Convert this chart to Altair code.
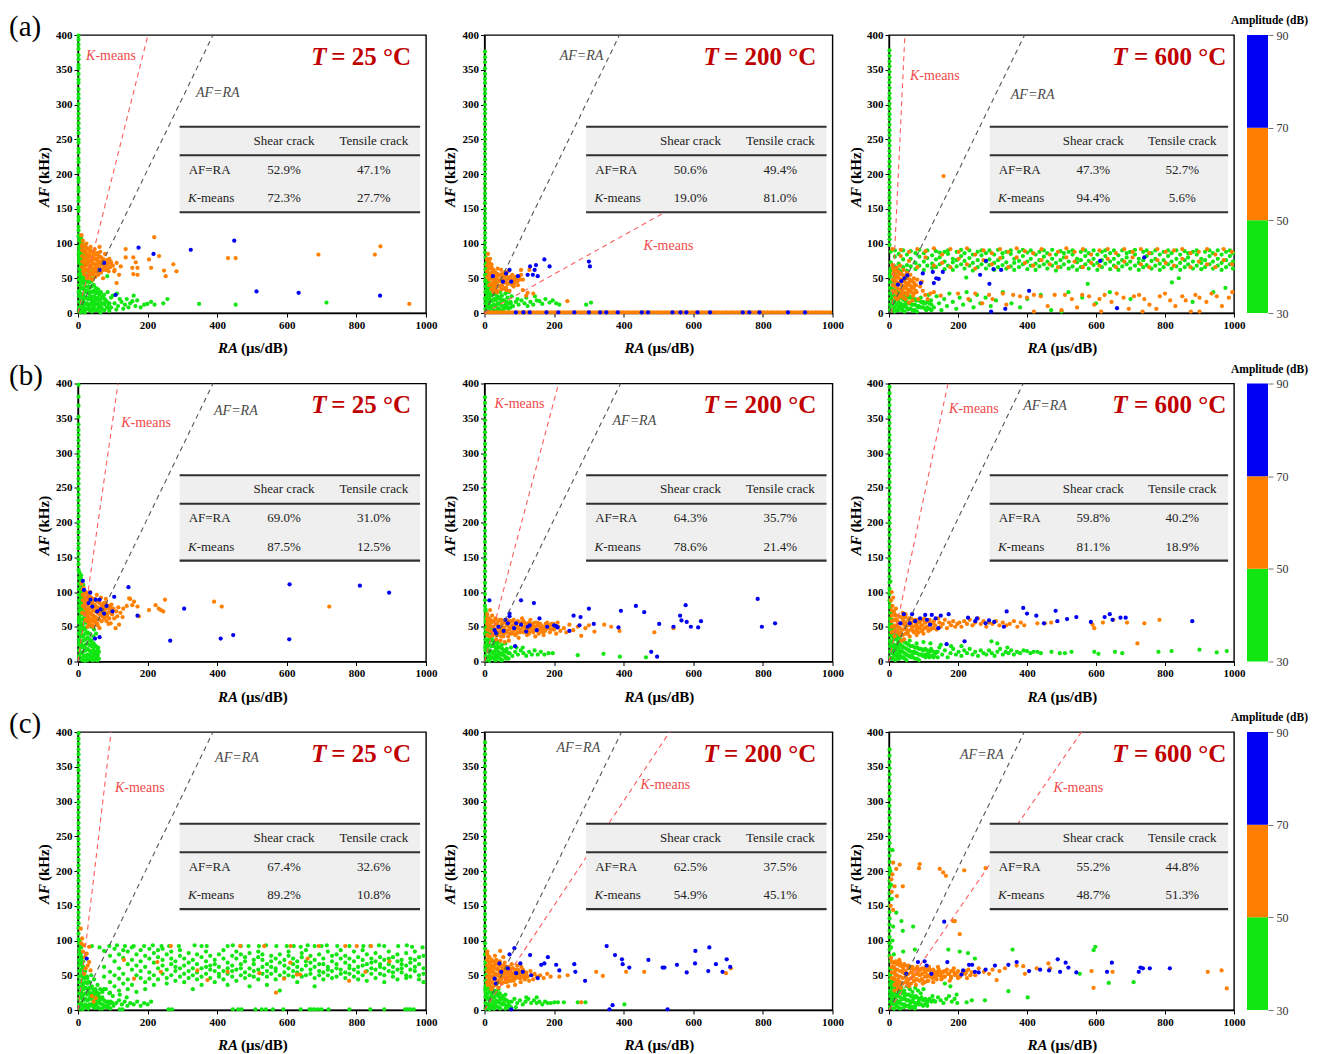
import altair as alt
import pandas as pd

FONT = "Liberation Serif"
GREEN = "#12e612"
ORANGE = "#ff8000"
BLUE = "#0000f5"
TITLE_RED = "#c00000"
KM_RED = "#f04a4a"
AFRA_GREY = "#4a4a4a"
INK = "#222222"

# amplitude band of each hit colour (dB)
AMP_GREEN, AMP_ORANGE, AMP_BLUE = 40, 60, 80
AXIS_RA = 1.5          # hits piled up on the AF axis (RA close to 0)
BASE_AF = 1            # hits lying on the RA axis (AF close to 0)

X_TICKS = [0, 200, 400, 600, 800, 1000]
Y_TICKS = [0, 50, 100, 150, 200, 250, 300, 350, 400]
PANEL_W = [348, 348, 345]
PANEL_H = 278

# colour bar bands
CB_LO = [30, 50, 70]
CB_HI = [50, 70, 90]
CB_AMP = [AMP_GREEN, AMP_ORANGE, AMP_BLUE]
CB_TICKS = [30, 50, 70, 90]

# summary table frame (data units)
TABLE_X = (292, 983)
TABLE_Y = (145, 268)
TABLE_MID = 227
HEADERS = ["Shear crack", "Tensile crack"]

# ---------------- row (a) ----------------
A1_AXIS = [399, 393, 386, 380, 371, 365, 357, 352, 344, 336, 331, 322, 315, 309, 301, 294, 287, 280, 273, 266,
           259, 250, 245, 236, 231, 222, 217, 208, 203, 194, 189, 180, 175, 166, 161, 152, 147, 138, 133, 124, 119, 110]
A1_GREEN = [(5, 105), (8, 98), (4, 92), (10, 88), (6, 82), (12, 78), (3, 75), (9, 70), (15, 66), (5, 62), (11, 58),
            (18, 55), (7, 50), (14, 46), (22, 44), (4, 40), (10, 36), (17, 34), (25, 32), (30, 38), (6, 28), (13, 25),
            (20, 22), (28, 20), (35, 24), (40, 18), (8, 16), (15, 14), (24, 12), (32, 10), (42, 12), (50, 15), (55, 20),
            (60, 10), (4, 8), (10, 6), (18, 4), (26, 6), (36, 4), (46, 6), (56, 4), (66, 8), (72, 14), (80, 18), (88, 12),
            (95, 8), (105, 14), (115, 10), (125, 16), (135, 12), (145, 8), (12, 100), (20, 95), (16, 88), (25, 80),
            (30, 70), (35, 60), (40, 50), (45, 40), (50, 30), (60, 28), (70, 22), (2, 2), (8, 1), (20, 1), (40, 2),
            (65, 1), (90, 3), (110, 5), (130, 6), (160, 25), (156, 17), (190, 12), (199, 13), (245, 14), (257, 20),
            (348, 13), (453, 12), (714, 15), (84, 53), (170, 18), (120, 20), (100, 25), (140, 20), (180, 8), (3, 55),
            (2, 30), (2, 85), (20, 60), (26, 45), (34, 30), (48, 22), (58, 34), (66, 30), (75, 26), (85, 30), (95, 22),
            (112, 28), (150, 14), (165, 10), (210, 16), (220, 12)]
A1_GREEN_FILL = [(3, [112, 104, 96, 88, 80, 72, 64, 56, 48, 40, 32, 24, 16, 8]),
                 (9, [108, 100, 92, 84, 76, 68, 60, 52, 44, 36, 28, 20, 12, 4]),
                 (15, [98, 90, 82, 74, 66, 58, 50, 42, 34, 26, 18, 10, 2]),
                 (21, [86, 78, 70, 62, 54, 46, 38, 30, 22, 14, 6]), (27, [70, 62, 54, 46, 38, 30, 22, 14, 6]),
                 (33, [52, 44, 36, 28, 20, 12, 4]), (39, [46, 38, 30, 22, 14, 6]), (45, [40, 32, 24, 16, 8]),
                 (51, [36, 28, 20, 12, 4]), (57, [30, 22, 14, 6]), (63, [26, 18, 10, 2]), (69, [22, 14, 6]),
                 (76, [20, 12, 4]), (83, [16, 8]), (90, [14, 6])]
A1_ORANGE = [(20, 90), (25, 85), (30, 80), (35, 88), (40, 75), (45, 82), (50, 70), (55, 78), (60, 65), (30, 62),
             (38, 68), (44, 58), (52, 60), (58, 72), (65, 80), (70, 75), (75, 68), (80, 62), (85, 70), (90, 78), (48, 92),
             (56, 86), (62, 95), (28, 72), (34, 55), (42, 48), (50, 52), (66, 58), (72, 50), (24, 100), (18, 78),
             (22, 68), (36, 95), (78, 85), (88, 60), (95, 72), (100, 68), (105, 62), (64, 88), (46, 64), (54, 66),
             (32, 76), (40, 82), (68, 70), (58, 55), (15, 60), (26, 50), (82, 76), (92, 66), (219, 109), (137, 92),
             (137, 80), (159, 80), (166, 73), (156, 65), (171, 65), (159, 56), (171, 55), (204, 77), (233, 82),
             (210, 65), (247, 61), (252, 53), (274, 70), (283, 60), (431, 79), (453, 79), (691, 84), (853, 84),
             (869, 96), (952, 13), (111, 43), (104, 60), (118, 55), (123, 67), (111, 72), (94, 74), (10, 112),
             (14, 104), (12, 95)]
A1_ORANGE_FILL = [(12, [98, 90, 82, 74, 66]), (18, [96, 88, 80, 72, 64, 56]), (24, [94, 86, 78, 70, 62, 54]),
                  (30, [92, 84, 76, 68, 60, 52]), (36, [90, 82, 74, 66, 58, 50]), (42, [88, 80, 72, 64, 56]),
                  (48, [86, 78, 70, 62, 54]), (54, [84, 76, 68, 60]), (60, [82, 74, 66, 58]), (66, [80, 72, 64]),
                  (72, [78, 70, 62]), (78, [74, 66]), (84, [72, 64])]
A1_BLUE = [(174, 94), (217, 85), (324, 91), (449, 104), (108, 26), (513, 31), (634, 29), (868, 25), (75, 72), (62, 62)]

A2_AXIS = [376, 368, 361, 352, 344, 337, 331, 322, 316, 308, 300, 293, 287, 279, 272, 264, 257, 250, 243, 236, 229,
           221, 214, 207, 200, 193, 186, 179, 172, 165, 158, 150, 143, 136, 129, 122, 115, 108, 101, 94, 87]
A2_GREEN = [(3, 80), (6, 72), (4, 64), (9, 58), (5, 50), (12, 46), (8, 40), (15, 36), (4, 32), (10, 28), (18, 26),
            (25, 30), (6, 22), (14, 20), (22, 18), (30, 20), (38, 24), (8, 12), (16, 10), (26, 12), (34, 10), (44, 14),
            (52, 18), (60, 12), (4, 4), (12, 3), (22, 5), (32, 3), (42, 6), (55, 5), (66, 8), (75, 14), (82, 10),
            (90, 16), (98, 12), (106, 18), (115, 14), (124, 10), (132, 16), (140, 12), (150, 18), (158, 17), (166, 13),
            (175, 20), (187, 15), (196, 18), (206, 14), (215, 12), (292, 12), (306, 15), (20, 40), (28, 35), (35, 45),
            (45, 30), (50, 25), (66, 22), (78, 24), (95, 20), (120, 22), (145, 24), (2, 55), (2, 45), (2, 20),
            (60, 28), (70, 30)]
A2_GREEN_FILL = [(3, [70, 62, 54, 46, 38, 30, 22, 14, 6]), (9, [50, 42, 34, 26, 18, 10, 2]), (15, [40, 32, 24, 16, 8]),
                 (21, [34, 26, 18, 10, 2]), (27, [28, 20, 12, 4]), (33, [26, 18, 10, 2]), (39, [22, 14, 6]),
                 (45, [20, 12, 4]), (51, [18, 10, 2]), (57, [18, 10]), (63, [16, 8]), (69, [14, 6]), (75, [16, 8])]
A2_ORANGE = [(8, 78), (12, 72), (15, 65), (20, 70), (25, 62), (18, 56), (30, 58), (35, 52), (28, 48), (40, 46),
             (45, 55), (50, 50), (55, 44), (22, 42), (32, 40), (42, 38), (60, 48), (65, 42), (70, 50), (75, 45),
             (80, 55), (85, 48), (90, 52), (95, 46), (100, 50), (105, 55), (110, 48), (38, 64), (48, 62), (58, 58),
             (68, 60), (14, 50), (26, 34), (36, 30), (50, 34), (62, 36), (72, 32), (84, 38), (96, 40), (105, 62),
             (100, 48), (86, 43), (62, 33), (124, 29), (110, 33), (129, 62), (238, 17), (120, 25), (140, 28),
             (10, 85), (16, 78)]
A2_ORANGE_FILL = [(8, [76, 68, 60, 52]), (14, [72, 64, 56, 48, 40]), (20, [66, 58, 50, 42, 34]),
                  (26, [62, 54, 46, 38, 30]), (32, [58, 50, 42, 34]), (38, [56, 48, 40, 32]), (44, [54, 46, 38]),
                  (50, [56, 48, 40]), (56, [52, 44, 36]), (62, [54, 46]), (68, [50, 42]), (74, [52, 44]),
                  (80, [48, 40]), (86, [50]), (92, [46])]
A2_BASE_ORANGE = [4, 13, 21, 30, 38, 47, 55, 64, 73, 81, 90, 98, 107, 115, 124, 133, 141, 150, 158, 167, 176, 184,
                  193, 201, 210, 219, 227, 236, 244, 253, 262, 270, 279, 287, 296, 305, 313, 322, 330, 339, 348, 356,
                  365, 373, 382, 391, 399, 408, 416, 425, 434, 442, 451, 459, 468, 477, 485, 494, 502, 511, 520, 528,
                  537, 545, 554, 563, 571, 580, 588, 597, 606, 614, 623, 631, 640, 649, 657, 666, 674, 683, 692, 700,
                  709, 717, 726, 735, 743, 752, 760, 769, 778, 786, 795, 803, 812, 821, 829, 838, 846, 855, 864, 872,
                  881, 889, 898, 907, 915, 924, 932, 941, 950, 958, 967, 975, 984, 993]
A2_BLUE = [(172, 77), (131, 67), (144, 62), (148, 69), (139, 55), (153, 53), (187, 67), (124, 55), (72, 62), (62, 57),
           (96, 53), (77, 45), (53, 45), (300, 74), (303, 67), (24, 53)]
A2_BASE_BLUE = [90, 112, 130, 178, 212, 258, 300, 332, 350, 383, 452, 470, 540, 563, 580, 612, 648, 742, 761, 790,
                872, 921]

A3_AXIS = [378, 370, 362, 355, 347, 339, 332, 324, 316, 309, 301, 294, 286, 279, 271, 263, 256, 248, 241, 233, 226,
           218, 211, 203, 196, 188, 181, 173, 166, 158, 151, 143, 136, 128, 121, 113, 106, 98]
A3_BAND_GREEN = [(5, [88, 73, 64]), (17, [81, 67, 90]), (28, [85, 71, 62]), (41, [77, 90, 66]), (52, [84, 69, 61]),
                 (63, [89, 78, 67]), (77, [72, 86, 63]), (88, [81, 68, 91]), (101, [86, 74, 62]), (111, [79, 90, 68]),
                 (125, [83, 71, 65]), (136, [89, 77, 66]), (147, [80, 70, 87]), (161, [74, 88, 63]), (171, [85, 68, 90]),
                 (185, [78, 73, 62]), (196, [88, 76, 67]), (209, [82, 70, 91]), (219, [75, 86, 64]), (233, [90, 79, 68]),
                 (243, [84, 72, 61]), (257, [76, 88, 66]), (268, [83, 70, 90]), (281, [86, 74, 64]), (291, [77, 90, 69]),
                 (305, [84, 72, 62]), (316, [91, 76, 66]), (329, [80, 69, 86]), (340, [73, 88, 64]), (353, [85, 67, 90]),
                 (363, [78, 72, 62]), (377, [88, 75, 66]), (388, [82, 70, 91]), (401, [74, 87, 63]), (411, [90, 78, 68]),
                 (425, [84, 71, 62]), (436, [76, 88, 67]), (449, [81, 70, 90]), (459, [86, 74, 64]), (473, [78, 91, 68]),
                 (484, [84, 72, 61]), (497, [89, 76, 66]), (507, [80, 70, 86]), (521, [74, 88, 64]), (532, [84, 67, 90]),
                 (545, [78, 73, 62]), (556, [88, 76, 66]), (569, [82, 70, 90]), (579, [75, 86, 64]), (593, [90, 78, 69]),
                 (604, [84, 72, 62]), (617, [76, 88, 66]), (627, [82, 71, 90]), (641, [86, 74, 63]), (652, [78, 90, 68]),
                 (665, [83, 72, 62]), (676, [90, 76, 67]), (689, [80, 70, 86]), (699, [74, 88, 64]), (713, [84, 68, 91]),
                 (724, [78, 72, 62]), (737, [88, 76, 66]), (747, [82, 69, 90]), (761, [75, 86, 64]), (772, [90, 78, 68]),
                 (785, [84, 71, 62]), (796, [76, 88, 66]), (809, [82, 70, 90]), (819, [86, 74, 64]), (833, [78, 90, 67]),
                 (844, [84, 72, 62]), (857, [89, 76, 66]), (867, [80, 70, 86]), (881, [74, 88, 64]), (892, [84, 68, 90]),
                 (905, [78, 72, 63]), (916, [88, 76, 66]), (929, [82, 70, 90]), (939, [74, 86, 64]), (953, [90, 78, 68]),
                 (964, [84, 72, 62]), (977, [76, 88, 66]), (988, [82, 70, 90]), (997, [86, 74, 64])]
A3_GREEN = [(3, 55), (6, 45), (4, 35), (8, 25), (10, 15), (5, 6), (14, 50), (18, 40), (22, 30), (26, 20), (30, 10),
            (16, 2), (28, 4), (40, 8), (45, 20), (50, 14), (55, 5), (60, 24), (65, 12), (70, 3), (78, 18), (85, 8),
            (92, 22), (100, 14), (108, 4), (115, 26), (122, 18), (130, 8), (138, 24), (145, 14), (152, 4), (160, 20),
            (168, 10), (175, 28), (185, 16), (195, 6), (205, 22), (215, 12), (225, 30), (235, 18), (245, 8), (255, 26),
            (265, 14), (280, 22), (295, 10), (310, 18), (330, 30), (355, 14), (380, 8), (401, 20), (440, 26), (470, 4),
            (500, 2), (520, 30), (560, 22), (576, 42), (600, 14), (640, 30), (700, 20), (820, 44), (840, 50), (880, 16),
            (940, 30), (975, 36), (36, 60), (20, 58), (12, 62), (224, 51)]
A3_GREEN_FILL = [(3, [60, 52, 44, 36, 28, 20, 12, 4]), (9, [44, 36, 28, 20, 12, 4]), (15, [40, 32, 24, 16, 8]),
                 (21, [36, 28, 20, 12, 4]), (27, [32, 24, 16, 8]), (33, [30, 22, 14, 6]), (39, [28, 20, 12, 4]),
                 (45, [26, 18, 10, 2]), (51, [24, 16, 8]), (57, [22, 14, 6]), (63, [22, 14, 6]), (69, [20, 12, 4]),
                 (75, [20, 12, 4]), (81, [18, 10, 2]), (87, [18, 10]), (93, [16, 8]), (99, [16, 8]), (105, [14, 6]),
                 (111, [16, 8]), (117, [14, 6]), (123, [12, 4])]
A3_BAND_ORANGE = [(10, [92, 69]), (34, [82, 91]), (58, [75, 88]), (82, [92, 66]), (106, [80, 89]), (130, [68, 93]),
                  (154, [84, 72]), (178, [92, 66]), (202, [78, 88]), (226, [93, 70]), (250, [84, 64]), (274, [90, 76]),
                  (298, [70, 86]), (322, [92, 79]), (346, [66, 88]), (370, [80, 93]), (394, [72, 89]), (418, [86, 68]),
                  (442, [92, 76]), (466, [70, 84]), (490, [88, 66]), (514, [93, 80]), (538, [74, 88]), (562, [66, 92]),
                  (586, [84, 72]), (610, [90, 68]), (634, [78, 92]), (658, [66, 86]), (682, [92, 74]), (706, [80, 88]),
                  (730, [70, 92]), (754, [86, 66]), (778, [92, 76]), (802, [72, 88]), (826, [90, 68]), (850, [78, 92]),
                  (874, [66, 86]), (898, [88, 74]), (922, [70, 92]), (946, [84, 66]), (970, [92, 76]), (994, [70, 88])]
A3_ORANGE = [(15, 60), (20, 50), (25, 40), (30, 56), (35, 45), (40, 35), (45, 50), (50, 40), (55, 30), (60, 45),
             (65, 35), (70, 25), (75, 40), (80, 30), (85, 20), (18, 30), (28, 22), (38, 28), (48, 20), (58, 15),
             (68, 18), (22, 65), (32, 68), (42, 62), (52, 58), (62, 55), (72, 50), (82, 48), (90, 38), (98, 32),
             (105, 26), (112, 20), (120, 28), (95, 45), (130, 30), (150, 25), (158, 197), (200, 28), (230, 20),
             (250, 28), (270, 14), (290, 26), (300, 20), (330, 28), (340, 12), (360, 26), (380, 24), (400, 22),
             (420, 26), (440, 24), (460, 10), (480, 26), (500, 4), (510, 26), (530, 20), (545, 8), (560, 26), (580, 24),
             (595, 12), (610, 20), (625, 26), (645, 16), (660, 28), (680, 22), (695, 6), (710, 24), (725, 26),
             (740, 20), (755, 12), (775, 6), (785, 24), (800, 28), (815, 18), (830, 10), (850, 24), (860, 18),
             (875, 2), (888, 26), (900, 22), (920, 16), (935, 28), (950, 24), (965, 10), (985, 22), (995, 30),
             (420, 2), (615, 2), (735, 2), (900, 2)]
A3_ORANGE_FILL = [(12, [64, 56, 48, 40, 32]), (18, [62, 54, 46, 38, 30, 22]), (24, [60, 52, 44, 36, 28, 20]),
                  (30, [58, 50, 42, 34, 26]), (36, [56, 48, 40, 32, 24]), (42, [54, 46, 38, 30, 22]),
                  (48, [52, 44, 36, 28]), (54, [50, 42, 34, 26]), (60, [48, 40, 32]), (66, [46, 38, 30]),
                  (72, [44, 36, 28]), (78, [40, 32])]
A3_BLUE = [(45, 50), (26, 41), (53, 54), (92, 43), (127, 59), (130, 43), (137, 50), (144, 49), (156, 59), (264, 55),
           (291, 42), (281, 75), (303, 63), (325, 62), (406, 32), (337, 6), (296, 2), (612, 75), (740, 80), (661, 7),
           (98, 57), (36, 46)]

# ---------------- row (b) ----------------
B1_AXIS = [398, 381, 368, 352, 341, 333, 326, 318, 310, 302, 295, 287, 279, 271, 263, 256, 248, 240, 232, 224, 217,
           209, 201, 194, 186, 178, 170, 163, 155, 147, 140, 132]
B1_GREEN = [(4, 128), (8, 120), (5, 112), (10, 104), (3, 96), (12, 92), (6, 86), (14, 80), (4, 74), (9, 68), (16, 62),
            (5, 56), (12, 50), (20, 46), (6, 42), (14, 36), (22, 32), (28, 40), (4, 28), (10, 24), (18, 20), (26, 18),
            (34, 24), (40, 14), (8, 12), (16, 8), (24, 6), (32, 10), (44, 8), (50, 12), (56, 6), (60, 14), (4, 4),
            (12, 2), (20, 1), (30, 3), (40, 2), (48, 4), (54, 2), (60, 4), (36, 30), (44, 36), (30, 54), (38, 50),
            (46, 46), (52, 40), (20, 58), (26, 66), (34, 60), (42, 26), (50, 22), (58, 20), (15, 110), (20, 100),
            (2, 60), (2, 40), (18, 74), (10, 115)]
B1_GREEN_FILL = [(3, [128, 120, 112, 104, 96, 88, 80, 72, 64, 56, 48, 40, 32, 24, 16, 8]),
                 (9, [124, 116, 108, 100, 92, 84, 76, 68, 60, 52, 44, 36, 28, 20, 12, 4]),
                 (15, [110, 102, 94, 86, 78, 70, 62, 54, 46, 38, 30, 22, 14, 6]),
                 (21, [80, 72, 64, 56, 48, 40, 32, 24, 16, 8]), (27, [50, 42, 34, 26, 18, 10, 2]),
                 (33, [40, 32, 24, 16, 8]), (39, [30, 22, 14, 6]), (45, [26, 18, 10, 2]), (51, [22, 14, 6]),
                 (57, [18, 10, 2])]
B1_ORANGE = [(10, 112), (16, 106), (22, 100), (28, 95), (34, 90), (40, 86), (46, 82), (52, 78), (58, 74), (64, 70),
             (70, 66), (76, 62), (82, 58), (88, 54), (20, 88), (26, 82), (32, 76), (38, 70), (44, 64), (50, 58),
             (56, 52), (62, 48), (68, 78), (74, 84), (80, 90), (86, 80), (92, 74), (98, 68), (104, 62), (110, 72),
             (116, 78), (122, 70), (128, 64), (24, 70), (30, 64), (36, 58), (42, 52), (48, 90), (54, 96), (60, 86),
             (66, 92), (72, 72), (78, 76), (84, 68), (90, 62), (96, 82), (102, 76), (14, 96), (18, 80), (12, 70),
             (22, 60), (28, 50), (35, 100), (147, 91), (156, 81), (171, 79), (161, 86), (175, 65), (204, 74),
             (223, 81), (232, 76), (238, 74), (245, 72), (250, 89), (391, 86), (413, 79), (722, 79), (118, 53),
             (108, 48), (94, 55), (113, 65), (84, 65), (150, 90), (140, 80), (130, 76)]
B1_ORANGE_FILL = [(14, [104, 96, 88, 80]), (20, [100, 92, 84, 76, 68]), (26, [98, 90, 82, 74, 66, 58]),
                  (32, [94, 86, 78, 70, 62, 54]), (38, [92, 84, 76, 68, 60, 52]), (44, [90, 82, 74, 66, 58, 50]),
                  (50, [88, 80, 72, 64, 56]), (56, [86, 78, 70, 62, 54]), (62, [84, 76, 68, 60]),
                  (68, [82, 74, 66, 58]), (74, [80, 72, 64]), (80, [84, 76, 68]), (86, [78, 70]), (92, [80, 72]),
                  (98, [76, 68])]
B1_BLUE = [(14, 116), (35, 99), (36, 89), (51, 89), (62, 89), (82, 80), (104, 93), (145, 107), (171, 66), (305, 76),
           (265, 30), (410, 33), (446, 38), (607, 32), (608, 111), (810, 109), (894, 99), (49, 33), (62, 35), (17, 103),
           (41, 79), (65, 75), (75, 69), (99, 72), (30, 84), (55, 72)]

B2_AXIS = [380, 372, 363, 355, 347, 338, 330, 322, 313, 305, 297, 288, 280, 272, 263, 255, 247, 238, 230, 222, 213,
           205, 197, 188, 180, 172, 163, 155, 147, 138, 130, 122, 113, 105, 97, 88, 80]
B2_GREEN = [(3, 75), (6, 68), (4, 60), (8, 52), (5, 45), (10, 40), (14, 34), (4, 30), (12, 26), (20, 22), (28, 26),
            (6, 18), (16, 14), (24, 12), (32, 16), (40, 20), (8, 6), (18, 4), (28, 6), (38, 8), (48, 10), (56, 14),
            (64, 18), (72, 12), (80, 8), (88, 14), (96, 10), (104, 16), (112, 12), (120, 8), (128, 14), (136, 10),
            (144, 16), (153, 10), (162, 14), (172, 10), (184, 12), (196, 12), (268, 9), (342, 11), (389, 7), (464, 6),
            (4, 2), (14, 1), (30, 2), (46, 2), (62, 4), (20, 35), (30, 30), (40, 28), (50, 24), (60, 26), (36, 40),
            (26, 46), (16, 50), (2, 20), (2, 40), (76, 20), (92, 20), (110, 20)]
B2_GREEN_FILL = [(3, [72, 64, 56, 48, 40, 32, 24, 16, 8]), (9, [62, 54, 46, 38, 30, 22, 14, 6]),
                 (15, [48, 40, 32, 24, 16, 8]), (21, [38, 30, 22, 14, 6]), (27, [30, 22, 14, 6]), (33, [26, 18, 10, 2]),
                 (39, [22, 14, 6]), (45, [20, 12, 4]), (51, [18, 10, 2]), (57, [16, 8]), (63, [14, 6]), (69, [12, 4])]
B2_ORANGE = [(8, 68), (14, 62), (20, 56), (26, 50), (32, 44), (38, 38), (44, 60), (50, 54), (56, 48), (62, 42),
             (68, 36), (74, 58), (80, 52), (86, 46), (92, 40), (98, 34), (104, 56), (110, 50), (116, 44), (122, 38),
             (128, 54), (134, 48), (140, 42), (146, 36), (152, 56), (158, 50), (164, 44), (170, 38), (176, 54),
             (182, 48), (188, 42), (194, 52), (200, 46), (206, 40), (212, 50), (218, 44), (12, 50), (18, 44), (24, 38),
             (30, 60), (36, 54), (42, 48), (48, 42), (54, 36), (60, 58), (66, 52), (72, 46), (78, 40), (84, 60),
             (90, 54), (96, 48), (102, 42), (108, 62), (114, 56), (120, 48), (126, 44), (132, 60), (138, 54),
             (144, 50), (150, 46), (156, 40), (162, 52), (168, 48), (174, 44), (180, 56), (186, 52), (192, 46),
             (198, 54), (204, 50), (210, 56), (16, 74), (10, 58), (22, 66), (34, 32), (46, 30), (58, 28), (70, 30),
             (244, 53), (268, 50), (278, 37), (316, 43), (344, 53), (364, 50), (388, 44), (488, 42), (543, 48),
             (228, 48), (235, 42), (255, 45), (290, 48), (300, 52)]
B2_ORANGE_FILL = [(8, [62, 54, 46, 38]), (16, [60, 52, 44, 36]), (24, [58, 50, 42]), (32, [62, 54, 46, 38]),
                  (40, [58, 50, 42]), (48, [60, 52, 44, 36]), (56, [56, 48, 40]), (64, [60, 52, 44]),
                  (72, [56, 48, 40]), (80, [58, 50, 42]), (88, [54, 46, 38]), (96, [58, 50, 42]), (104, [54, 46]),
                  (112, [58, 50, 42]), (120, [54, 46]), (128, [56, 48, 40]), (136, [52, 44]), (144, [56, 48]),
                  (152, [52, 44]), (160, [54, 46]), (168, [50, 42]), (176, [54, 46]), (184, [50]), (192, [54, 46]),
                  (200, [50])]
B2_BLUE = [(14, 88), (105, 88), (142, 84), (300, 76), (392, 73), (435, 80), (459, 71), (562, 66), (578, 81), (566, 59),
           (581, 57), (593, 50), (614, 49), (622, 58), (543, 50), (502, 54), (314, 54), (276, 64), (256, 66), (273, 52),
           (244, 44), (385, 49), (785, 90), (797, 50), (835, 55), (479, 14), (496, 7), (88, 22), (158, 62), (206, 51),
           (29, 45), (33, 41), (72, 65), (72, 69), (67, 55), (91, 55), (120, 43), (124, 50), (105, 53), (40, 50),
           (55, 44), (60, 60), (85, 48), (130, 52), (150, 45), (180, 50), (200, 52), (210, 49)]

B3_AXIS = [395, 386, 377, 369, 360, 352, 343, 335, 326, 318, 309, 301, 292, 284, 275, 267, 258, 250, 241, 233, 224,
           216, 207, 199, 190, 182, 173, 165, 156, 148, 139, 131, 122, 114, 105, 97, 88]
B3_GREEN = [(3, 80), (5, 70), (4, 60), (8, 52), (6, 44), (10, 38), (14, 32), (4, 28), (12, 24), (20, 20), (28, 26),
            (6, 16), (16, 12), (24, 8), (32, 14), (40, 20), (8, 4), (18, 2), (30, 4), (42, 6), (50, 10), (58, 16),
            (66, 8), (74, 14), (82, 20), (90, 10), (98, 16), (106, 6), (114, 12), (122, 18), (130, 8), (138, 14),
            (146, 20), (154, 10), (162, 16), (170, 6), (178, 12), (186, 18), (194, 10), (202, 14), (210, 8), (218, 16),
            (226, 12), (234, 18), (242, 10), (250, 14), (258, 8), (266, 16), (274, 12), (282, 10), (290, 16),
            (298, 12), (306, 8), (314, 14), (322, 18), (330, 10), (338, 14), (346, 12), (354, 16), (362, 10),
            (371, 14), (380, 12), (390, 16), (400, 15), (410, 12), (419, 14), (430, 14), (440, 12), (471, 14),
            (495, 12), (510, 12), (529, 14), (595, 14), (607, 11), (655, 14), (676, 12), (781, 14), (819, 15),
            (900, 17), (950, 13), (979, 15), (297, 29), (314, 26), (343, 20), (120, 26), (150, 24), (180, 22),
            (210, 22), (60, 30), (80, 26), (100, 28), (20, 40), (30, 36), (36, 46), (2, 100), (4, 115), (2, 50)]
B3_GREEN_FILL = [(3, [86, 78, 70, 62, 54, 46, 38, 30, 22, 14, 6]), (9, [60, 52, 44, 36, 28, 20, 12, 4]),
                 (15, [48, 40, 32, 24, 16, 8]), (21, [40, 32, 24, 16, 8]), (27, [36, 28, 20, 12, 4]),
                 (33, [32, 24, 16, 8]), (39, [30, 22, 14, 6]), (45, [28, 20, 12, 4]), (51, [26, 18, 10, 2]),
                 (57, [24, 16, 8]), (63, [22, 14, 6]), (69, [22, 14, 6]), (75, [20, 12, 4]), (81, [20, 12, 4]),
                 (87, [18, 10, 2]), (93, [18, 10]), (99, [16, 8]), (105, [18, 10]), (111, [16, 8]), (117, [14, 6]),
                 (123, [16, 8]), (129, [14, 6]), (135, [12]), (141, [14, 6])]
B3_ORANGE = [(6, 88), (10, 80), (14, 72), (18, 66), (22, 60), (26, 54), (30, 48), (34, 42), (38, 64), (42, 58),
             (46, 52), (50, 46), (54, 40), (58, 62), (62, 56), (66, 50), (70, 44), (74, 60), (78, 54), (82, 48),
             (86, 42), (90, 58), (94, 52), (98, 46), (102, 62), (106, 56), (110, 50), (114, 44), (118, 60), (122, 54),
             (126, 48), (130, 58), (134, 52), (138, 46), (142, 62), (146, 56), (150, 50), (156, 54), (162, 60),
             (168, 48), (174, 56), (180, 52), (186, 58), (192, 50), (198, 54), (204, 56), (210, 50), (218, 58),
             (226, 54), (234, 60), (242, 52), (250, 56), (258, 62), (266, 54), (274, 58), (282, 50), (290, 56),
             (300, 54), (310, 58), (320, 52), (330, 56), (340, 52), (350, 54), (362, 58), (372, 50), (382, 56),
             (392, 52), (16, 50), (24, 44), (32, 38), (40, 70), (48, 68), (20, 76), (12, 92), (8, 100), (430, 55),
             (452, 55), (470, 56), (590, 53), (595, 48), (620, 56), (650, 60), (690, 56), (740, 55), (784, 60),
             (720, 26), (36, 30), (44, 32), (60, 36), (80, 38), (100, 40)]
B3_ORANGE_FILL = [(8, [74, 66, 58, 50, 42]), (16, [68, 60, 52, 44, 36]), (24, [66, 58, 50, 42]),
                  (32, [64, 56, 48, 40]), (40, [62, 54, 46, 38]), (48, [64, 56, 48, 40]), (56, [60, 52, 44]),
                  (64, [62, 54, 46]), (72, [58, 50, 42]), (80, [60, 52, 44]), (88, [56, 48]), (96, [60, 52, 44]),
                  (104, [56, 48]), (112, [58, 50]), (120, [54, 46]), (128, [56, 48])]
B3_BLUE = [(43, 68), (67, 68), (105, 67), (124, 67), (173, 68), (229, 63), (255, 62), (290, 59), (305, 57), (341, 72),
           (389, 77), (400, 69), (427, 66), (449, 55), (483, 73), (488, 58), (516, 61), (543, 64), (585, 57), (625, 64),
           (640, 68), (648, 60), (671, 63), (686, 63), (879, 58), (33, 55), (76, 58), (167, 25), (219, 29), (119, 53),
           (143, 48), (333, 50), (90, 62), (110, 60), (135, 62), (150, 66), (60, 55), (280, 55), (250, 58)]

# ---------------- row (c) ----------------
C1_AXIS = [398, 390, 383, 375, 368, 360, 352, 345, 337, 330, 322, 315, 307, 299, 292, 284, 277, 269, 262, 254, 246,
           239, 231, 224, 216, 208, 201, 193, 186, 178, 171, 163, 155, 148, 140, 133, 125, 118, 110, 102]
C1_GREEN = [(4, 100), (8, 92), (5, 84), (10, 76), (6, 68), (14, 62), (4, 56), (10, 50), (18, 46), (6, 40), (14, 36),
            (22, 32), (30, 28), (4, 24), (12, 20), (20, 16), (28, 14), (36, 18), (44, 22), (52, 26), (8, 8), (16, 6),
            (24, 4), (34, 6), (44, 8), (54, 10), (62, 14), (70, 18), (78, 12), (86, 8), (94, 12), (102, 6), (110, 10),
            (118, 14), (126, 8), (134, 12), (142, 6), (150, 10), (160, 8), (170, 12), (180, 6), (190, 10), (200, 8),
            (210, 12), (30, 40), (40, 34), (50, 30), (60, 24), (70, 26), (38, 50), (46, 44), (56, 36), (64, 30),
            (4, 2), (14, 1), (30, 2), (50, 3), (70, 2), (90, 3), (20, 56), (26, 48), (80, 30), (90, 24), (100, 20),
            (120, 22), (140, 18),
            (40, 92), (62, 90), (90, 92), (112, 93), (135, 92), (160, 92), (190, 92), (215, 93), (240, 92), (262, 92),
            (290, 92), (335, 93), (355, 92), (370, 92), (430, 92), (445, 93), (468, 92), (490, 92), (520, 92),
            (540, 93), (570, 92), (600, 92), (620, 92), (640, 91), (660, 93), (680, 92), (700, 92), (715, 93),
            (745, 92), (780, 92), (820, 92), (840, 92), (865, 93), (880, 92), (920, 92), (945, 93), (960, 91),
            (990, 90),
            (120, 1), (128, 1), (260, 1), (270, 1), (445, 1), (460, 1), (470, 1), (510, 1), (528, 1), (540, 1),
            (560, 1), (590, 1), (640, 1), (665, 1), (672, 1), (680, 1), (690, 1), (700, 1), (720, 1), (780, 1),
            (840, 1), (880, 1), (940, 1), (948, 1), (955, 1), (965, 1)]
C1_GREEN_FILL = [(3, [96, 88, 80, 72, 64, 56, 48, 40, 32, 24, 16, 8]),
                 (9, [90, 82, 74, 66, 58, 50, 42, 34, 26, 18, 10, 2]), (15, [70, 62, 54, 46, 38, 30, 22, 14, 6]),
                 (21, [56, 48, 40, 32, 24, 16, 8]), (27, [46, 38, 30, 22, 14, 6]), (33, [40, 32, 24, 16, 8]),
                 (39, [32, 24, 16, 8]), (45, [28, 20, 12, 4]), (51, [24, 16, 8]), (57, [20, 12, 4]), (63, [18, 10, 2]),
                 (69, [16, 8]), (75, [14, 6]), (81, [12, 4]), (87, [12, 4]), (93, [10, 2]), (99, [10])]
C1_FIELD = [(75, [85, 62, 48, 30]), (92, [78, 55, 40, 25]), (105, [70, 88, 50, 34]), (118, [60, 80, 45, 28]),
            (130, [75, 52, 38, 86]), (143, [66, 84, 44, 30]), (155, [58, 72, 90, 36]), (168, [80, 50, 64, 26]),
            (180, [70, 46, 86, 56]), (193, [62, 78, 40, 30]), (205, [54, 74, 88, 45]), (218, [68, 82, 50, 36]),
            (230, [60, 76, 44, 86]), (243, [72, 52, 64, 88]), (255, [46, 80, 58, 38]), (268, [66, 84, 50, 74]),
            (280, [56, 70, 42, 62]), (293, [48, 78, 60, 86]), (305, [64, 52, 74, 40]), (318, [56, 82, 46, 68]),
            (330, [72, 50, 60, 30]), (342, [44, 66, 80, 54]), (355, [60, 76, 48, 36]), (368, [70, 52, 84, 62]),
            (380, [46, 64, 58, 78]), (393, [56, 72, 40, 66]), (405, [62, 48, 80, 52]), (418, [74, 56, 86, 44]),
            (430, [52, 68, 60, 36]), (443, [64, 78, 48, 56]), (455, [58, 74, 84, 42]), (468, [50, 66, 60, 80]),
            (480, [70, 54, 46, 76]), (493, [60, 82, 50, 34]), (505, [66, 48, 72, 56]), (518, [58, 76, 44, 84]),
            (530, [72, 52, 62, 80]), (543, [48, 66, 56, 36]), (555, [62, 78, 52, 70]), (568, [56, 44, 74, 60]),
            (580, [68, 50, 80, 28]), (593, [54, 72, 46, 64]), (605, [60, 78, 50, 84]), (618, [48, 66, 56, 74]),
            (630, [70, 54, 62, 40]), (643, [58, 76, 48, 82]), (655, [64, 50, 70, 86]), (668, [52, 68, 58, 78]),
            (680, [72, 46, 62, 34]), (693, [56, 80, 50, 66]), (705, [66, 54, 74, 44]), (718, [50, 62, 84, 58]),
            (730, [70, 56, 78, 46]), (743, [60, 48, 66, 80]), (755, [74, 52, 58, 86]), (768, [54, 68, 46, 78]),
            (780, [64, 74, 52, 60]), (793, [48, 70, 58, 84]), (805, [62, 76, 44, 54]), (818, [72, 50, 64, 86]),
            (830, [56, 66, 80, 42]), (843, [68, 52, 74, 60]), (855, [58, 46, 70, 82]), (868, [66, 76, 52, 62]),
            (880, [50, 72, 60, 40]), (893, [74, 56, 66, 84]), (905, [62, 48, 76, 54]), (918, [70, 58, 44, 80]),
            (930, [54, 66, 72, 60]), (943, [64, 50, 82, 46]), (955, [58, 74, 48, 68]), (968, [72, 56, 62, 84]),
            (980, [50, 66, 44, 76]), (993, [60, 78, 52, 40])]
C1_ORANGE = [(8, 117), (12, 103), (17, 93), (25, 81), (32, 69), (36, 57), (22, 60), (51, 17), (32, 91), (267, 92),
             (466, 92), (535, 92), (611, 92), (692, 92), (768, 92), (801, 92), (842, 92), (569, 25), (592, 45),
             (629, 51), (638, 51), (779, 42), (826, 55), (895, 70), (430, 55), (343, 57), (228, 69), (132, 72),
             (238, 55), (161, 45), (610, 68), (660, 74), (521, 53), (372, 43), (14, 84), (20, 76), (10, 96), (28, 64),
             (18, 52), (40, 20), (45, 12)]
C1_BLUE = [(25, 74)]

C2_AXIS = [385, 376, 368, 359, 351, 342, 334, 325, 317, 308, 300, 291, 283, 274, 266, 257, 249, 240, 232, 223, 215,
           206, 198, 189, 181, 172, 164, 155, 147, 138, 130, 121, 113, 104, 96, 88, 80]
C2_GREEN = [(3, 70), (6, 60), (4, 50), (8, 42), (5, 36), (12, 30), (18, 26), (4, 22), (10, 18), (18, 14), (26, 18),
            (34, 22), (6, 8), (14, 6), (22, 4), (30, 8), (38, 12), (46, 16), (54, 10), (62, 14), (70, 8), (78, 12),
            (86, 16), (94, 10), (102, 14), (110, 8), (118, 12), (126, 16), (134, 10), (142, 14), (150, 10), (158, 12),
            (166, 8), (174, 12), (182, 10), (191, 10), (201, 11), (211, 11), (228, 11), (268, 11), (290, 11), (402, 8),
            (4, 2), (14, 1), (28, 2), (44, 3), (60, 2), (76, 4), (90, 4), (20, 32), (28, 28), (36, 26), (44, 24),
            (52, 20), (12, 40), (2, 30), (40, 30), (60, 22), (120, 18), (150, 18)]
C2_GREEN_FILL = [(3, [66, 58, 50, 42, 34, 26, 18, 10, 2]), (9, [40, 32, 24, 16, 8]), (15, [34, 26, 18, 10, 2]),
                 (21, [30, 22, 14, 6]), (27, [26, 18, 10, 2]), (33, [22, 14, 6]), (39, [20, 12, 4]),
                 (45, [18, 10, 2]), (51, [16, 8]), (57, [16, 8]), (63, [14, 6]), (69, [12, 4])]
C2_ORANGE = [(8, 84), (12, 76), (16, 68), (20, 62), (24, 56), (28, 50), (32, 44), (36, 38), (40, 32), (44, 70),
             (48, 64), (52, 58), (56, 52), (60, 46), (64, 40), (68, 34), (72, 60), (76, 54), (80, 48), (84, 42),
             (88, 36), (92, 58), (96, 52), (100, 46), (104, 40), (108, 56), (112, 50), (116, 44), (120, 54), (124, 48),
             (128, 42), (132, 56), (136, 50), (140, 44), (144, 52), (150, 48), (14, 58), (18, 48), (22, 40), (26, 34),
             (30, 66), (34, 72), (38, 60), (42, 52), (46, 44), (50, 38), (54, 76), (58, 68), (62, 62), (66, 56),
             (70, 48), (74, 42), (78, 66), (82, 60), (86, 52), (90, 46), (94, 64), (98, 56), (102, 50), (106, 62),
             (110, 58), (114, 52), (118, 46), (45, 85), (30, 78), (160, 50), (170, 46), (180, 52), (190, 48),
             (321, 55), (340, 49), (407, 55), (459, 55), (694, 53), (708, 60), (215, 48), (239, 50), (278, 11),
             (20, 30), (10, 36)]
C2_ORANGE_FILL = [(8, [80, 72, 64, 56, 48, 40]), (14, [76, 68, 60, 52, 44, 36]), (20, [72, 64, 56, 48, 40, 32]),
                  (26, [70, 62, 54, 46, 38]), (32, [68, 60, 52, 44, 36]), (38, [66, 58, 50, 42]),
                  (44, [64, 56, 48, 40]), (50, [62, 54, 46]), (56, [64, 56, 48, 40]), (62, [60, 52, 44]),
                  (68, [62, 54, 46]), (74, [58, 50, 42]), (80, [60, 52, 44]), (88, [56, 48]), (96, [58, 50]),
                  (104, [54, 46]), (112, [56, 48]), (120, [52])]
C2_BLUE = [(72, 80), (86, 89), (131, 79), (182, 76), (172, 67), (206, 65), (215, 57), (258, 66), (261, 55), (289, 42),
           (351, 92), (375, 79), (395, 73), (397, 66), (416, 61), (471, 72), (512, 61), (517, 61), (553, 65), (581, 54),
           (606, 85), (605, 67), (643, 56), (646, 90), (665, 66), (684, 55), (696, 73), (706, 62), (29, 45), (33, 38),
           (43, 67), (67, 60), (91, 53), (110, 55), (134, 50), (153, 46), (48, 55), (77, 1), (359, 1), (368, 7),
           (526, 1), (103, 67), (163, 65)]

C3_AXIS = [375, 366, 357, 348, 339, 330, 321, 312, 303, 294, 285, 276, 267, 258, 249, 240, 231, 222, 213, 204, 195,
           186, 177, 168, 159, 150, 141, 132, 123, 114, 105, 96, 87, 78]
C3_GREEN = [(4, 70), (6, 60), (3, 50), (8, 44), (5, 38), (12, 34), (18, 30), (4, 26), (10, 22), (18, 18), (26, 22),
            (34, 26), (6, 12), (14, 10), (22, 8), (30, 12), (38, 16), (46, 20), (54, 14), (62, 10), (70, 16), (78, 20),
            (86, 12), (94, 18), (102, 14), (110, 10), (118, 16), (126, 20), (134, 12), (142, 18), (150, 14), (158, 10),
            (166, 16), (174, 20), (182, 12), (190, 16), (198, 10), (4, 4), (14, 2), (28, 3), (44, 4), (60, 3), (76, 5),
            (20, 40), (28, 36), (36, 32), (44, 28), (52, 34), (60, 30), (68, 26), (76, 32), (84, 28), (92, 24),
            (100, 30), (70, 120), (40, 114), (36, 128), (12, 120), (21, 140), (41, 84), (75, 87), (172, 87), (205, 84),
            (229, 82), (249, 74), (358, 87), (598, 91), (593, 86), (553, 52), (637, 39), (709, 40), (346, 27),
            (402, 18), (278, 14), (240, 14), (225, 11), (196, 22), (178, 34), (162, 38), (10, 100), (6, 90), (14, 80),
            (8, 160), (4, 200), (6, 180), (10, 230)]
C3_GREEN_FILL = [(3, [60, 52, 44, 36, 28, 20, 12, 4]), (9, [40, 32, 24, 16, 8]), (15, [34, 26, 18, 10, 2]),
                 (21, [30, 22, 14, 6]), (27, [28, 20, 12, 4]), (33, [26, 18, 10, 2]), (39, [24, 16, 8]),
                 (45, [24, 16, 8]), (51, [22, 14, 6]), (57, [22, 14, 6]), (63, [20, 12, 4]), (69, [20, 12, 4]),
                 (75, [18, 10, 2]), (81, [18, 10]), (87, [16, 8]), (93, [16, 8]), (99, [14, 6]), (105, [16, 8]),
                 (111, [14, 6]), (117, [14]), (123, [12]), (129, [14])]
C3_ORANGE = [(6, 75), (10, 68), (14, 62), (18, 56), (22, 50), (26, 44), (30, 38), (34, 32), (38, 64), (42, 58),
             (46, 52), (50, 46), (54, 40), (58, 34), (62, 60), (66, 54), (70, 48), (74, 42), (78, 36), (82, 62),
             (86, 56), (90, 50), (94, 44), (98, 38), (102, 60), (106, 54), (110, 48), (114, 42), (118, 58), (122, 52),
             (126, 46), (130, 56), (134, 50), (138, 44), (142, 62), (146, 56), (150, 50), (156, 54), (162, 48),
             (168, 58), (174, 52), (180, 46), (186, 56), (192, 50), (198, 54), (206, 48), (214, 56), (222, 52),
             (230, 58), (240, 54), (250, 50), (14, 46), (20, 38), (26, 30), (32, 68), (44, 66), (56, 64), (68, 62),
             (80, 44), (92, 58), (104, 40), (116, 62), (128, 40), (140, 54), (152, 44), (164, 56), (176, 42),
             (188, 60), (200, 46), (212, 52), (226, 46), (236, 50), (20, 70), (30, 72), (16, 28),
             (12, 212), (21, 203), (31, 209), (7, 188), (16, 178), (89, 210), (87, 204), (147, 203), (157, 198),
             (165, 193), (218, 201), (280, 204), (40, 178), (23, 164), (191, 128), (205, 109), (186, 128), (12, 144),
             (8, 170), (10, 195), (5, 150),
             (312, 43), (336, 60), (370, 64), (389, 63), (394, 52), (462, 67), (467, 60), (587, 56), (648, 55),
             (593, 32), (924, 55), (964, 57), (979, 31), (428, 60), (260, 60), (275, 55), (290, 52), (300, 58),
             (320, 56)]
C3_ORANGE_FILL = [(8, [70, 62, 54, 46]), (16, [68, 60, 52, 44, 36]), (24, [66, 58, 50, 42, 34]),
                  (32, [64, 56, 48, 40, 32]), (40, [62, 54, 46, 38]), (48, [64, 56, 48, 40]), (56, [60, 52, 44, 36]),
                  (64, [62, 54, 46, 38]), (72, [58, 50, 42]), (80, [60, 52, 44]), (88, [58, 50, 42]),
                  (96, [60, 52, 44]), (104, [56, 48]), (112, [58, 50, 42]), (120, [56, 48]), (128, [58, 50]),
                  (136, [54, 46]), (144, [58, 50]), (152, [54, 46]), (160, [56, 48]), (170, [52]), (180, [56, 48]),
                  (190, [52]), (200, [56, 48]), (212, [52]), (225, [56])]
C3_BLUE = [(160, 127), (84, 69), (103, 70), (109, 64), (169, 69), (123, 52), (210, 51), (232, 65), (241, 65), (249, 55),
           (307, 64), (346, 65), (370, 69), (406, 56), (438, 58), (464, 57), (489, 73), (496, 55), (512, 68), (520, 61),
           (543, 54), (632, 55), (646, 68), (724, 55), (729, 61), (736, 60), (756, 60), (814, 60), (50, 52), (215, 57),
           (260, 54), (280, 58)]

# shares of shear / tensile cracks: (AF=RA shear, AF=RA tensile, K-means shear, K-means tensile)
SHARES = {
    "a1": ("52.9%", "47.1%", "72.3%", "27.7%"), "a2": ("50.6%", "49.4%", "19.0%", "81.0%"),
    "a3": ("47.3%", "52.7%", "94.4%", "5.6%"), "b1": ("69.0%", "31.0%", "87.5%", "12.5%"),
    "b2": ("64.3%", "35.7%", "78.6%", "21.4%"), "b3": ("59.8%", "40.2%", "81.1%", "18.9%"),
    "c1": ("67.4%", "32.6%", "89.2%", "10.8%"), "c2": ("62.5%", "37.5%", "54.9%", "45.1%"),
    "c3": ("55.2%", "44.8%", "48.7%", "51.3%"),
}
# dividing lines (RA, AF) end points
AFRA_LINE = {"a1": [(0, 0), (388, 400)], "a2": [(0, 0), (388, 400)], "a3": [(0, 0), (393, 400)],
             "b1": [(0, 0), (388, 400)], "b2": [(0, 0), (391, 400)], "b3": [(0, 0), (389, 400)],
             "c1": [(0, 0), (388, 400)], "c2": [(0, 0), (394, 400)], "c3": [(0, 0), (392, 400)]}
KM_LINE = {"a1": [(0, 0), (201, 400)], "a2": [(0, 0), (522, 146)], "a3": [(8, 0), (46, 400)],
           "b1": [(0, 0), (115, 400)], "b2": [(0, 0), (213, 400)], "b3": [(0, 0), (171, 400)],
           "c1": [(0, 0), (95, 400)], "c2": [(0, 0), (532, 400)], "c3": [(0, 0), (558, 400)]}
AFRA_LABEL = {"a1": (339, 317), "a2": (216, 370), "a3": (353, 313), "b1": (391, 361), "b2": (368, 346),
              "b3": (389, 368), "c1": (394, 363), "c2": (207, 377), "c3": (206, 367)}
KM_LABEL = {"a1": (23, 370), "a2": (457, 96), "a3": (61, 341), "b1": (124, 343), "b2": (29, 370),
            "b3": (174, 363), "c1": (106, 319), "c2": (448, 324), "c3": (477, 320)}
TEMPS = ["25", "200", "600"]
TEMP_X = {"25": (670, 728), "200": (629, 688), "600": (647, 710)}
YTITLE_X = [-34, -35, -33]

POINTS = {
    "a1": dict(axis=A1_AXIS, green=A1_GREEN, green_fill=A1_GREEN_FILL, orange=A1_ORANGE,
               orange_fill=A1_ORANGE_FILL, blue=A1_BLUE),
    "a2": dict(axis=A2_AXIS, green=A2_GREEN, green_fill=A2_GREEN_FILL, orange=A2_ORANGE,
               orange_fill=A2_ORANGE_FILL, blue=A2_BLUE, base_orange=A2_BASE_ORANGE, base_blue=A2_BASE_BLUE),
    "a3": dict(axis=A3_AXIS, green=A3_GREEN, green_fill=A3_BAND_GREEN + A3_GREEN_FILL, orange=A3_ORANGE,
               orange_fill=A3_BAND_ORANGE + A3_ORANGE_FILL, blue=A3_BLUE),
    "b1": dict(axis=B1_AXIS, green=B1_GREEN, green_fill=B1_GREEN_FILL, orange=B1_ORANGE,
               orange_fill=B1_ORANGE_FILL, blue=B1_BLUE),
    "b2": dict(axis=B2_AXIS, green=B2_GREEN, green_fill=B2_GREEN_FILL, orange=B2_ORANGE,
               orange_fill=B2_ORANGE_FILL, blue=B2_BLUE),
    "b3": dict(axis=B3_AXIS, green=B3_GREEN, green_fill=B3_GREEN_FILL, orange=B3_ORANGE,
               orange_fill=B3_ORANGE_FILL, blue=B3_BLUE),
    "c1": dict(axis=C1_AXIS, green=C1_GREEN, green_fill=C1_FIELD + C1_GREEN_FILL, orange=C1_ORANGE,
               blue=C1_BLUE),
    "c2": dict(axis=C2_AXIS, green=C2_GREEN, green_fill=C2_GREEN_FILL, orange=C2_ORANGE,
               orange_fill=C2_ORANGE_FILL, blue=C2_BLUE),
    "c3": dict(axis=C3_AXIS, green=C3_GREEN, green_fill=C3_GREEN_FILL, orange=C3_ORANGE,
               orange_fill=C3_ORANGE_FILL, blue=C3_BLUE),
}

AMP_SCALE = alt.Scale(type="threshold", domain=[50, 70], range=[GREEN, ORANGE, BLUE])


def hits(spec):
    rows = [{"ra": AXIS_RA, "af": a, "amp": AMP_GREEN} for a in spec["axis"]]
    rows += [{"ra": r, "af": a, "amp": AMP_GREEN} for r, afs in spec.get("green_fill", []) for a in afs]
    rows += [{"ra": r, "af": a, "amp": AMP_GREEN} for r, a in spec["green"]]
    rows += [{"ra": r, "af": BASE_AF, "amp": AMP_ORANGE} for r in spec.get("base_orange", [])]
    rows += [{"ra": r, "af": a, "amp": AMP_ORANGE} for r, afs in spec.get("orange_fill", []) for a in afs]
    rows += [{"ra": r, "af": a, "amp": AMP_ORANGE} for r, a in spec["orange"]]
    rows += [{"ra": r, "af": BASE_AF, "amp": AMP_BLUE} for r in spec.get("base_blue", [])]
    rows += [{"ra": r, "af": a, "amp": AMP_BLUE} for r, a in spec["blue"]]
    return pd.DataFrame(rows)


def one_row():
    return alt.Data(values=[{"k": 0}])


def px_text(text, x, y, **mark):
    return alt.Chart(one_row()).mark_text(text=text, font=FONT, **mark).encode(
        x=alt.value(x), y=alt.value(y))


def colorbar(W, H):
    """Amplitude colour bar drawn to the right of the last panel of a row."""
    left = W + 13
    bands = pd.DataFrame({"lo": CB_LO, "hi": CB_HI, "amp": CB_AMP})
    bar = alt.Chart(bands).mark_rect().encode(
        x=alt.value(left), x2=alt.value(left + 21),
        y=alt.Y("lo:Q", scale=alt.Scale(domain=[30, 90], nice=False),
                axis=alt.Axis(orient="right", offset=34, values=CB_TICKS, title=None, domain=False,
                              labelFontWeight="normal", labelFontSize=12, labelColor="#333333",
                              tickColor="#777777", tickSize=5, labelPadding=3)),
        y2="hi:Q",
        color=alt.Color("amp:Q", scale=AMP_SCALE, legend=None))
    title = px_text("Amplitude (dB)", left + 61, -11, align="right", baseline="alphabetic", fontSize=11.5,
                    fontWeight="bold", color="black")
    return alt.layer(bar, title)


def panel(key, col, tag=None):
    W, H = PANEL_W[col], PANEL_H
    temp = TEMPS[col]
    X = alt.X("ra:Q", scale=alt.Scale(domain=[0, 1000], nice=False),
              axis=alt.Axis(values=X_TICKS, title=None, labelFlush=False, grid=False, format="d"))
    Y = alt.Y("af:Q", scale=alt.Scale(domain=[0, 400], nice=False),
              axis=alt.Axis(values=Y_TICKS, title=None, grid=False, orient="left", format="d"))

    pts = alt.Chart(hits(POINTS[key])).mark_circle(size=18, opacity=1).encode(
        x=X, y=Y, color=alt.Color("amp:Q", legend=None, scale=AMP_SCALE))

    def dashed(pair, color):
        df = pd.DataFrame({"ra": [p[0] for p in pair], "af": [p[1] for p in pair]})
        return alt.Chart(df).mark_line(strokeDash=[5, 4], strokeWidth=1.1, color=color).encode(x=X, y=Y)

    table_box = alt.Chart(pd.DataFrame({"ra": [TABLE_X[0]], "ra2": [TABLE_X[1]],
                                        "af": [TABLE_Y[0]], "af2": [TABLE_Y[1]]})).mark_rect(
        color="#efefef").encode(x=X, x2="ra2:Q", y=Y, y2="af2:Q")
    table_rules = alt.Chart(pd.DataFrame({"ra": [TABLE_X[0]] * 3, "ra2": [TABLE_X[1]] * 3,
                                          "af": [TABLE_Y[1], TABLE_MID, TABLE_Y[0]]})).mark_rule(
        strokeWidth=2.2, color="#303030").encode(x=X, x2="ra2:Q", y=Y)

    s1, t1, s2, t2 = SHARES[key]
    centred = pd.DataFrame({"ra": [592, 850, 592, 850, 592, 850], "af": [248, 248, 206, 206, 165, 165],
                            "t": [HEADERS[0], HEADERS[1], s1, t1, s2, t2]})
    cells = alt.Chart(centred).mark_text(font=FONT, fontSize=13, color=INK, baseline="middle").encode(
        x=X, y=Y, text="t:N")
    left_cells = alt.Chart(pd.DataFrame({"ra": [318, 341], "af": [206, 165], "t": ["AF=RA", "-means"]})).mark_text(
        font=FONT, fontSize=13, color=INK, align="left", baseline="middle").encode(x=X, y=Y, text="t:N")
    k_cell = alt.Chart(pd.DataFrame({"ra": [316], "af": [165], "t": ["K"]})).mark_text(
        font=FONT, fontSize=13, fontStyle="italic", color=INK, align="left", baseline="middle").encode(
        x=X, y=Y, text="t:N")

    ax, ay = AFRA_LABEL[key]
    afra_lab = alt.Chart(pd.DataFrame({"ra": [ax], "af": [ay], "t": ["AF=RA"]})).mark_text(
        font=FONT, fontSize=14, fontStyle="italic", color=AFRA_GREY, align="left", baseline="middle").encode(
        x=X, y=Y, text="t:N")
    kx, ky = KM_LABEL[key]
    km_k = alt.Chart(pd.DataFrame({"ra": [kx], "af": [ky], "t": ["K"]})).mark_text(
        font=FONT, fontSize=14, fontStyle="italic", color=KM_RED, align="left", baseline="middle").encode(
        x=X, y=Y, text="t:N")
    km_rest = alt.Chart(pd.DataFrame({"ra": [kx + 27], "af": [ky], "t": ["-means"]})).mark_text(
        font=FONT, fontSize=14, color=KM_RED, align="left", baseline="middle").encode(x=X, y=Y, text="t:N")

    tx, ex = TEMP_X[temp]
    t_sym = alt.Chart(pd.DataFrame({"ra": [tx], "af": [357], "t": ["T"]})).mark_text(
        font=FONT, fontSize=25, fontStyle="italic", fontWeight="bold", color=TITLE_RED, align="left",
        baseline="alphabetic").encode(x=X, y=Y, text="t:N")
    t_val = alt.Chart(pd.DataFrame({"ra": [ex], "af": [357], "t": [f"= {temp} °C"]})).mark_text(
        font=FONT, fontSize=25, fontWeight="bold", color=TITLE_RED, align="left",
        baseline="alphabetic").encode(x=X, y=Y, text="t:N")

    yx = YTITLE_X[col]
    titles = [
        px_text("AF", yx, 152, angle=270, align="right", baseline="middle", fontSize=15, fontWeight="bold",
                fontStyle="italic", color="black"),
        px_text("(kHz)", yx, 149, angle=270, align="left", baseline="middle", fontSize=15, fontWeight="bold",
                color="black"),
        px_text("RA", W / 2 - 14, H + 40, align="right", baseline="alphabetic", fontSize=15, fontWeight="bold",
                fontStyle="italic", color="black"),
        px_text("(μs/dB)", W / 2 - 11, H + 40, align="left", baseline="alphabetic", fontSize=15,
                fontWeight="bold", color="black"),
    ]
    if tag:
        titles.append(px_text(tag, -69, 1, align="left", baseline="alphabetic", fontSize=29, color="black"))

    layers = [pts, dashed(AFRA_LINE[key], "#555555"), dashed(KM_LINE[key], "#ff5c5c"),
              table_box, table_rules, cells, left_cells, k_cell, afra_lab, km_k, km_rest, t_sym, t_val] + titles
    body = alt.layer(*layers)
    if col == 2:
        body = alt.layer(body, colorbar(W, H)).resolve_scale(y="independent")
    return body.properties(width=W, height=H)


rows = []
for r, letter in enumerate("abc"):
    p = [panel(f"{letter}{c + 1}", c, tag=f"({letter})" if c == 0 else None) for c in range(3)]
    rows.append(alt.hconcat(*p, spacing=3.5))

chart = alt.vconcat(*rows, spacing=3.5).properties(
    padding={"left": 8, "top": 12, "right": 5, "bottom": 5},
    background="white",
).configure_view(stroke="black", strokeWidth=1.4).configure_axis(
    labelFont=FONT, labelFontWeight="bold", labelFontSize=11, labelColor="black",
    tickColor="black", domainColor="black", domainWidth=1.4, tickSize=4, labelPadding=2, grid=False)

chart.save("out.html", embed_options={"renderer": "svg", "actions": False})
